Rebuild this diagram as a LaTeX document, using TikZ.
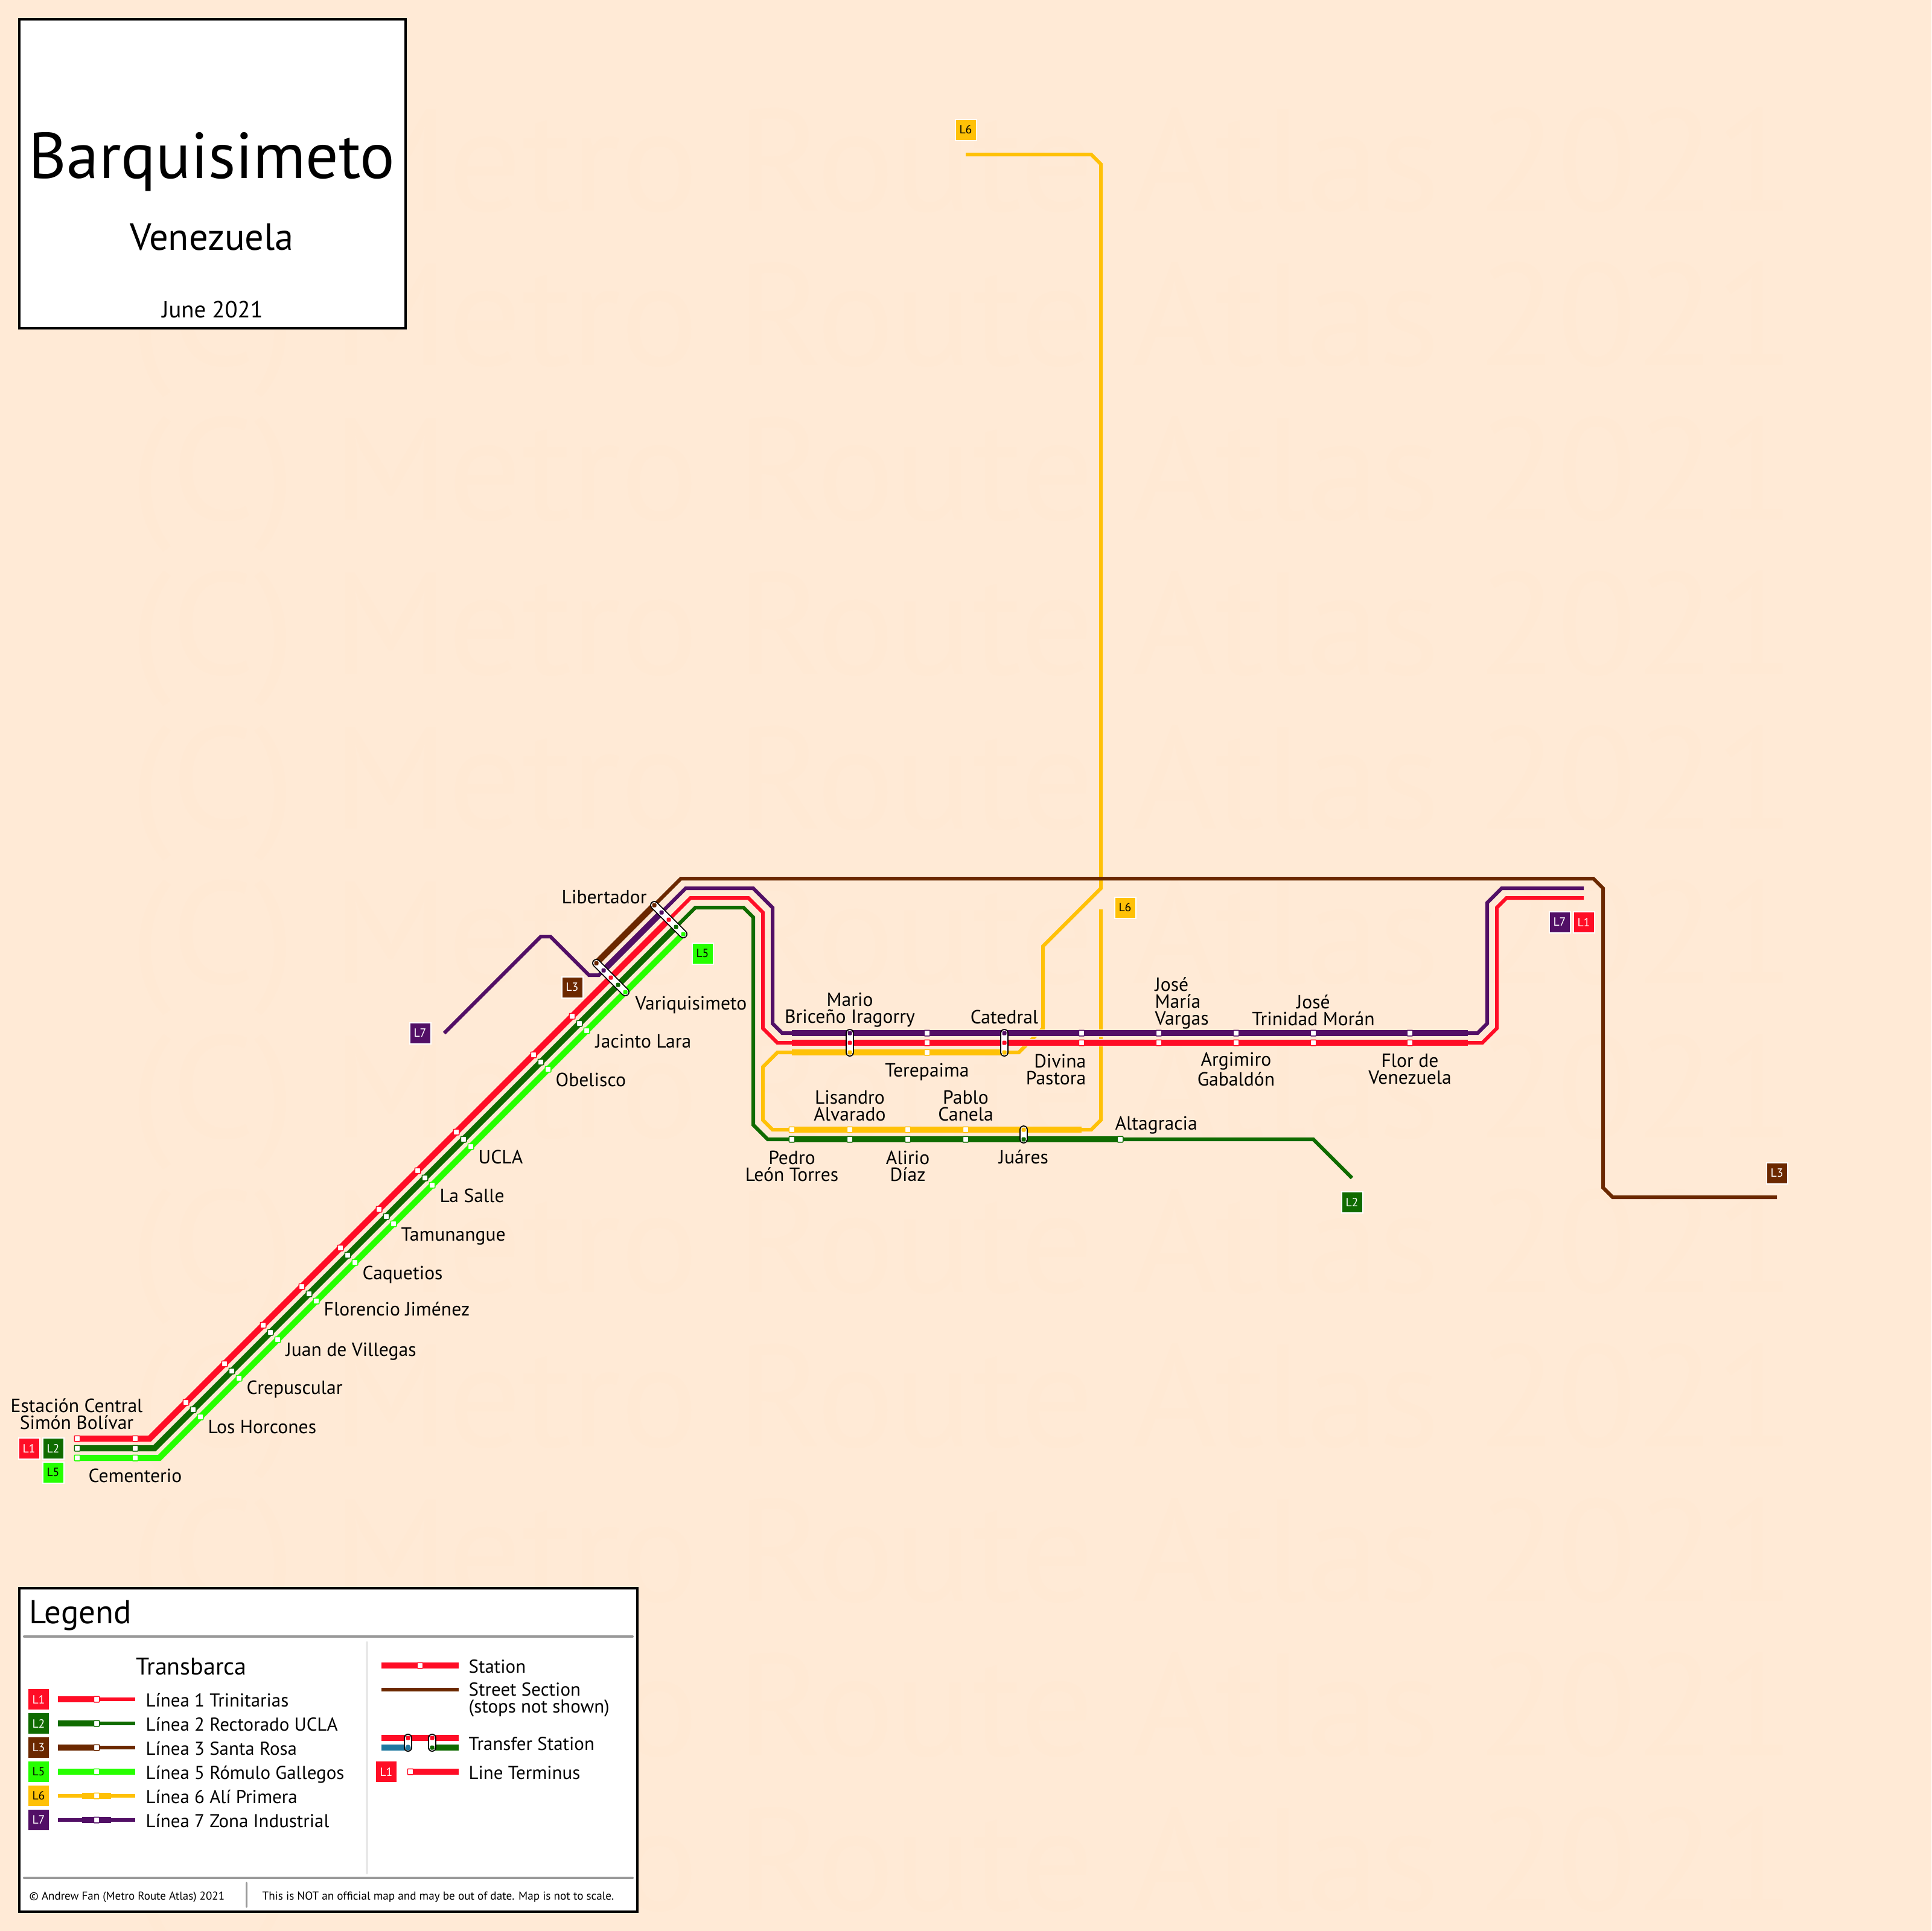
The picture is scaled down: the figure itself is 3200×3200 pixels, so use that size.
\documentclass[tikz,border=0pt]{standalone}
\usepackage{fontspec}
\usepackage{graphicx}
\setmainfont{PT Sans}
\usetikzlibrary{positioning}
\definecolor{map paper}{HTML}{FFEAD6}
\definecolor{map mark}{HTML}{FFE9D4}
\definecolor{barca red}{HTML}{FF0D26}
\definecolor{barca green}{HTML}{0F6B00}
\definecolor{barca brown}{HTML}{6B2800}
\definecolor{barca lime}{HTML}{26FF00}
\definecolor{barca yellow}{HTML}{FFC107}
\definecolor{barca purple}{HTML}{520F66}
\definecolor{key blue}{HTML}{1F78A0}
\definecolor{rule gray}{HTML}{999999}
\definecolor{rule light}{HTML}{E8E8E8}
\tikzset{
	thick line/.style = {draw=#1, line width=1mm},
	thin line/.style = {draw=#1, line width=0.6mm},
	casing/.style = {draw=map paper, line width=1.2mm},
	stopbox/.style = {draw=#1, fill=white, line width=0.15mm, rounded corners=0.1mm, minimum size=0.95mm, inner sep=0},
	pill/.style = {draw=black, double=white, line width=0.17mm, double distance=1.05mm, line cap=round},
	pilldot/.style = {fill=#1, rounded corners=0.15mm, minimum size=0.7mm, inner sep=0},
	linetag/.style = {fill=#1, draw=white, line width=0.2mm, minimum size=3.5mm, inner sep=0, text=white, font=\fontsize{5.6}{6}\selectfont},
	darktag/.style = {linetag=#1, text=black},
	lbl/.style = {font=\fontsize{9}{7.97}\selectfont, inner sep=0, align=center},
	keylbl/.style = {font=\fontsize{8.8}{7.97}\selectfont, inner sep=0, align=left},
	boxline/.style = {draw=black, line width=0.4mm, fill=white},
	rule/.style = {draw=rule gray, line width=0.4mm, line cap=round},
}
\begin{document}
\begin{tikzpicture}[x=0.1mm, y=-0.1mm]
	\fill[map paper] (0,0) rectangle (3200,3200);
	\useasboundingbox (0,0) rectangle (3200,3200);
	% faint repeated mark behind the map
	\foreach \y in {349,605,861,1117,1373,1629,1885,2141,2397,2653,2909,3165}
		\node[anchor=base west, inner sep=0, text=map mark] at (216,\y) {\resizebox{27.57cm}{!}{\fontsize{72}{72}\selectfont (C) Metro Route Atlas 2021}};
	% title box
	\draw[boxline] (32,32) rectangle (672,544);
	\node[anchor=base, inner sep=0, font=\fontsize{30.6}{32}\selectfont] (city) at (351,295) {Barquisimeto};
	\node[anchor=base, inner sep=0, font=\fontsize{17.8}{18}\selectfont] (country) at (351,414) {Venezuela};
	\node[anchor=base, inner sep=0, font=\fontsize{11}{11}\selectfont] (mapdate) at (352,526) {June 2021};
	% line 6
	\draw[thin line=barca yellow] (1600,256) -- (1808,256) -- (1824,272) -- (1824,1472) -- (1728,1568) -- (1728,1704) -- (1688,1744) -- (1664,1744);
	\draw[thick line=barca yellow] (1664,1744) -- (1312,1744);
	\draw[thin line=barca yellow] (1312,1744) -- (1288,1744) -- (1264,1768) -- (1264,1856) -- (1280,1872) -- (1312,1872);
	\draw[thick line=barca yellow] (1312,1872) -- (1792,1872);
	\draw[thin line=barca yellow] (1792,1872) -- (1808,1872) -- (1824,1856) -- (1824,1507);
	% gaps where line 6 passes under
	\draw[casing] (1690,1712) -- (1850,1712) (1690,1728) -- (1850,1728);
	% line 3
	\draw[thick line=barca brown] (988,1596) -- (1084,1500);
	\draw[thin line=barca brown] (1084,1500) -- (1128,1456) -- (2640,1456) -- (2656,1472) -- (2656,1968) -- (2672,1984) -- (2944,1984);
	% line 7
	\draw[thin line=barca purple] (736,1712) -- (896,1552) -- (912,1552) -- (976,1616) -- (992,1616) -- (1000,1608);
	\draw[thick line=barca purple] (1000,1608) -- (1096,1512);
	\draw[thin line=barca purple] (1096,1512) -- (1136,1472) -- (1248,1472) -- (1280,1504) -- (1280,1696) -- (1296,1712) -- (1312,1712);
	\draw[thick line=barca purple] (1312,1712) -- (2432,1712);
	\draw[thin line=barca purple] (2432,1712) -- (2448,1712) -- (2464,1696) -- (2464,1496) -- (2488,1472) -- (2624,1472);
	% line 1
	\draw[thick line=barca red] (128,2384) -- (248,2384) -- (1108,1524);
	\draw[thin line=barca red] (1108,1524) -- (1144,1488) -- (1240,1488) -- (1264,1512) -- (1264,1704) -- (1288,1728) -- (1312,1728);
	\draw[thick line=barca red] (1312,1728) -- (2432,1728);
	\draw[thin line=barca red] (2432,1728) -- (2456,1728) -- (2480,1704) -- (2480,1504) -- (2496,1488) -- (2624,1488);
	% line 2
	\draw[thick line=barca green] (128,2400) -- (256,2400) -- (1120,1536);
	\draw[thin line=barca green] (1120,1536) -- (1152,1504) -- (1232,1504) -- (1248,1520) -- (1248,1864) -- (1272,1888) -- (1312,1888);
	\draw[thick line=barca green] (1312,1888) -- (1856,1888);
	\draw[thin line=barca green] (1856,1888) -- (2176,1888) -- (2240,1952);
	% line 5
	\draw[thick line=barca lime] (128,2416) -- (264,2416) -- (1132,1548);
	% stations on the long diagonal
	\foreach \x [evaluate=\x as \y using int(2632-\x)] in {308,372,436,500,564,628,692,756,884,948} {
		\node[stopbox=barca red] (red\x) at (\x,\y) {};
		\node[stopbox=barca green] (green\x) at (\x+12,\y+12) {};
		\node[stopbox=barca lime] (lime\x) at (\x+24,\y+24) {};
	}
	\foreach \x in {128,224} {
		\node[stopbox=barca red] (redend\x) at (\x,2384) {};
		\node[stopbox=barca green] (greenend\x) at (\x,2400) {};
		\node[stopbox=barca lime] (limeend\x) at (\x,2416) {};
	}
	% stations on the horizontal parts
	\foreach \x in {1536,1792,1920,2048,2176,2336} {
		\node[stopbox=barca purple] (purple\x) at (\x,1712) {};
		\node[stopbox=barca red] (redeast\x) at (\x,1728) {};
	}
	\node[stopbox=barca yellow] (terepaima) at (1536,1744) {};
	\foreach \x in {1312,1408,1504,1600} {
		\node[stopbox=barca yellow] (yellow\x) at (\x,1872) {};
		\node[stopbox=barca green] (greensouth\x) at (\x,1888) {};
	}
	\node[stopbox=barca green] (altagracia) at (1856,1888) {};
	% transfer stations
	\draw[pill] (988,1596) -- (1036,1644);
	\draw[pill] (1084,1500) -- (1132,1548);
	\draw[pill] (1408,1712) -- (1408,1744);
	\draw[pill] (1664,1712) -- (1664,1744);
	\draw[pill] (1696,1872) -- (1696,1888);
	\foreach \x/\y/\dotcol in {988/1596/barca brown, 1000/1608/barca purple, 1012/1620/barca red, 1024/1632/barca green, 1036/1644/barca lime,
		1084/1500/barca brown, 1096/1512/barca purple, 1108/1524/barca red, 1120/1536/barca green, 1132/1548/barca lime,
		1408/1712/barca purple, 1408/1728/barca red, 1408/1744/barca yellow,
		1664/1712/barca purple, 1664/1728/barca red, 1664/1744/barca yellow,
		1696/1872/barca yellow, 1696/1888/barca green}
		\node[pilldot=\dotcol] at (\x,\y) {};
	% line tags on the map
	\node[darktag=barca yellow] (tagsix) at (1600,215) {L6};
	\node[darktag=barca yellow] (tagsixb) at (1864,1504) {L6};
	\node[darktag=barca lime] (tagfive) at (1164,1580) {L5};
	\node[linetag=barca brown] (tagthree) at (948,1636) {L3};
	\node[linetag=barca purple] (tagseven) at (696,1712) {L7};
	\node[linetag=barca purple] (tagsevenb) at (2584,1528) {L7};
	\node[linetag=barca red] (tagoneb) at (2624,1528) {L1};
	\node[linetag=barca brown] (tagthreeb) at (2944,1944) {L3};
	\node[linetag=barca green] (tagtwob) at (2240,1992) {L2};
	\node[linetag=barca red] (tagone) at (48,2400) {L1};
	\node[linetag=barca green] (tagtwo) at (88,2400) {L2};
	\node[darktag=barca lime] (tagfivew) at (88,2440) {L5};
	% station names
	\node[lbl, anchor=base west] (nlibertador) at (930,1497) {Libertador};
	\node[lbl, anchor=base west] (nvariquisimeto) at (1052,1673) {Variquisimeto};
	\node[lbl, anchor=base west] (njacinto) at (986,1736) {Jacinto Lara};
	\node[lbl, anchor=base west] (nobelisco) at (920,1800) {Obelisco};
	\node[lbl, anchor=base west] (nucla) at (792,1928) {UCLA};
	\node[lbl, anchor=base west] (nsalle) at (728,1992) {La Salle};
	\node[lbl, anchor=base west] (ntamunangue) at (664,2056) {Tamunangue};
	\node[lbl, anchor=base west] (ncaquetios) at (600,2120) {Caquetios};
	\node[lbl, anchor=base west] (nflorencio) at (536,2180) {Florencio Jiménez};
	\node[lbl, anchor=base west] (njuan) at (473,2247) {Juan de Villegas};
	\node[lbl, anchor=base west] (ncrepuscular) at (408,2310) {Crepuscular};
	\node[lbl, anchor=base west] (nhorcones) at (344,2375) {Los Horcones};
	\node[lbl, anchor=base] (ncementerio) at (224,2456) {Cementerio};
	\node[lbl] (nestacion) at (127,2343) {Estación Central\\Simón Bolívar};
	\node[lbl] (nmario) at (1408,1674) {Mario\\Briceño Iragorry};
	\node[lbl, anchor=base] (ncatedral) at (1664,1696) {Catedral};
	\node[lbl, anchor=base] (nterepaima) at (1536,1784) {Terepaima};
	\node[lbl, align=right, anchor=east] (ndivina) at (1800,1772) {Divina\\Pastora};
	\node[lbl, align=left, anchor=west] (njose) at (1913,1662) {José\\María\\Vargas};
	\node[lbl] (nargimiro) at (2048,1772) {Argimiro\\Gabaldón};
	\node[lbl] (ntrinidad) at (2176,1674) {José\\Trinidad Morán};
	\node[lbl] (nflor) at (2336,1772) {Flor de\\Venezuela};
	\node[lbl] (nlisandro) at (1408,1832) {Lisandro\\Alvarado};
	\node[lbl] (npablo) at (1600,1832) {Pablo\\Canela};
	\node[lbl] (npedro) at (1312,1932) {Pedro\\León Torres};
	\node[lbl] (nalirio) at (1504,1932) {Alirio\\Díaz};
	\node[lbl, anchor=base] (njuares) at (1696,1928) {Juáres};
	\node[lbl, anchor=base west] (naltagracia) at (1847,1872) {Altagracia};
	% legend frame
	\draw[boxline] (32,2632) rectangle (1056,3168);
	\draw[rule] (40,2712) -- (1048,2712);
	\draw[rule] (40,3112) -- (1048,3112);
	\draw[rule, line width=0.3mm] (408,3120) -- (408,3160);
	\draw[rule, draw=rule light] (608,2722) -- (608,3104);
	\node[anchor=base west, inner sep=0, font=\fontsize{15.6}{17}\selectfont] (legendhead) at (48,2690) {Legend};
	\node[anchor=base, inner sep=0, font=\fontsize{11.4}{12}\selectfont] (legendnet) at (317,2775) {Transbarca};
	\node[anchor=base west, inner sep=0, font=\fontsize{5.4}{6}\selectfont] (legendcopy) at (48,3148) {© Andrew Fan (Metro Route Atlas) 2021};
	\node[anchor=base west, inner sep=0, font=\fontsize{5.45}{6}\selectfont] (legendnote) at (434,3148) {This is NOT an official map and may be out of date. Map is not to scale.};
	% legend rows for the lines
	\foreach \y/\linecol/\tagstyle/\tagname/\linename in {2816/barca red/linetag/L1/Línea 1 Trinitarias, 2856/barca green/linetag/L2/Línea 2 Rectorado UCLA, 2896/barca brown/linetag/L3/Línea 3 Santa Rosa, 2936/barca lime/darktag/L5/Línea 5 Rómulo Gallegos, 2976/barca yellow/darktag/L6/Línea 6 Alí Primera, 3016/barca purple/linetag/L7/Línea 7 Zona Industrial} {
		\node[\tagstyle=\linecol, draw=none, minimum size=3.4mm] (key\y) at (64,\y) {\tagname};
		\node[keylbl, anchor=base west] (keyname\y) at (241,\y+12) {\linename};
	}
	\foreach \y/\linecol in {2816/barca red, 2856/barca green, 2896/barca brown} {
		\draw[thick line=\linecol] (96,\y) -- (160,\y);
		\draw[thin line=\linecol] (160,\y) -- (224,\y);
	}
	\draw[thick line=barca lime] (96,2936) -- (224,2936);
	\foreach \y/\linecol in {2976/barca yellow, 3016/barca purple} {
		\draw[thin line=\linecol] (96,\y) -- (224,\y);
		\draw[thick line=\linecol] (136,\y) -- (184,\y);
	}
	\foreach \y/\linecol in {2816/barca red, 2856/barca green, 2896/barca brown, 2936/barca lime, 2976/barca yellow, 3016/barca purple}
		\node[stopbox=\linecol] (keystop\y) at (160,\y) {};
	% legend rows for the symbols
	\draw[thick line=barca red] (632,2760) -- (760,2760);
	\node[stopbox=barca red] (keystation) at (696,2760) {};
	\node[keylbl, anchor=base west] (keystationname) at (776,2772) {Station};
	\draw[thin line=barca brown] (632,2800) -- (760,2800);
	\node[keylbl, anchor=west] (keystreet) at (776,2817) {Street Section\\(stops not shown)};
	\draw[thick line=barca red] (632,2880) -- (760,2880);
	\draw[thick line=key blue] (632,2896) -- (676,2896);
	\draw[thick line=barca green] (716,2896) -- (760,2896);
	\draw[pill] (676,2880) -- (676,2896);
	\draw[pill] (716,2880) -- (716,2896);
	\node[pilldot=barca red] (keydotone) at (676,2880) {};
	\node[circle, fill=key blue, minimum size=0.95mm, inner sep=0] (keydottwo) at (676,2896) {};
	\node[pilldot=barca red] (keydotthree) at (716,2880) {};
	\node[pilldot=barca green] (keydotfour) at (716,2896) {};
	\node[keylbl, anchor=base west] (keytransfer) at (776,2900) {Transfer Station};
	\node[linetag=barca red, draw=none, minimum size=3.4mm] (keyterm) at (640,2936) {L1};
	\draw[thick line=barca red] (680,2936) -- (760,2936);
	\node[stopbox=barca red] (keytermstop) at (680,2936) {};
	\node[keylbl, anchor=base west] (keytermname) at (776,2948) {Line Terminus};
\end{tikzpicture}
\end{document}
